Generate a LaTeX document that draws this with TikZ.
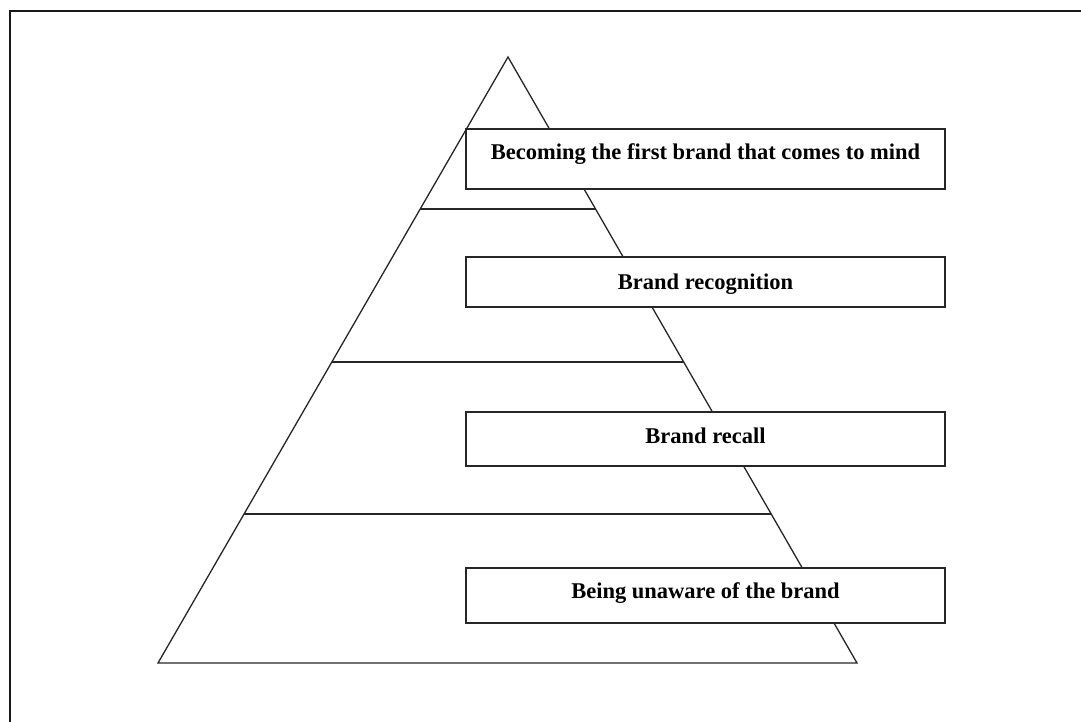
\documentclass[tikz,border=0pt]{standalone}
\usepackage{fontspec}
\setmainfont{Liberation Serif}
\usetikzlibrary{calc}
\begin{document}
\begin{tikzpicture}[x=1pt,y=-1pt,
  edge/.style={line width=1.3pt, draw=black!85, line join=miter},
  levelbox/.style={draw=black!85, line width=1.5pt, fill=white, inner sep=0pt, outer sep=0pt,
    minimum width=479pt, text height=14pt,
    font=\fontsize{22.5}{26}\selectfont\bfseries},
  frameline/.style={line width=2pt, draw=black!90}]
\useasboundingbox (0,0) rectangle (1081,722);
\clip (0,0) rectangle (1081,722);

% outer frame (only the top and left sides fall on the page)
\draw[frameline] (10,740) -- (10,11) -- (1100,11);

% pyramid outline
\coordinate (apex) at (508,57);
\coordinate (bl) at (158,663);
\coordinate (br) at (857,663);
\draw[edge] (apex) -- (bl) -- (br) -- cycle;

% level dividers
\foreach \t/\n in {0.2508/a, 0.5033/b, 0.7541/c} {
  \coordinate (l\n) at ($(apex)!\t!(bl)$);
  \coordinate (r\n) at ($(apex)!\t!(br)$);
  \draw[edge] (l\n) -- (r\n);
}

% level labels
\node[levelbox, minimum height=60pt, text depth=12pt] (top) at (705.5,159)
  {Becoming the first brand that comes to mind};
\node[levelbox, minimum height=50pt, text depth=0pt] (recog) at (705.5,282)
  {Brand recognition};
\node[levelbox, minimum height=54pt, text depth=6pt] (recall) at (705.5,439)
  {Brand recall};
\node[levelbox, minimum height=55pt, text depth=9pt] (unaware) at (705.5,595.5)
  {Being unaware of the brand};
\end{tikzpicture}
\end{document}
